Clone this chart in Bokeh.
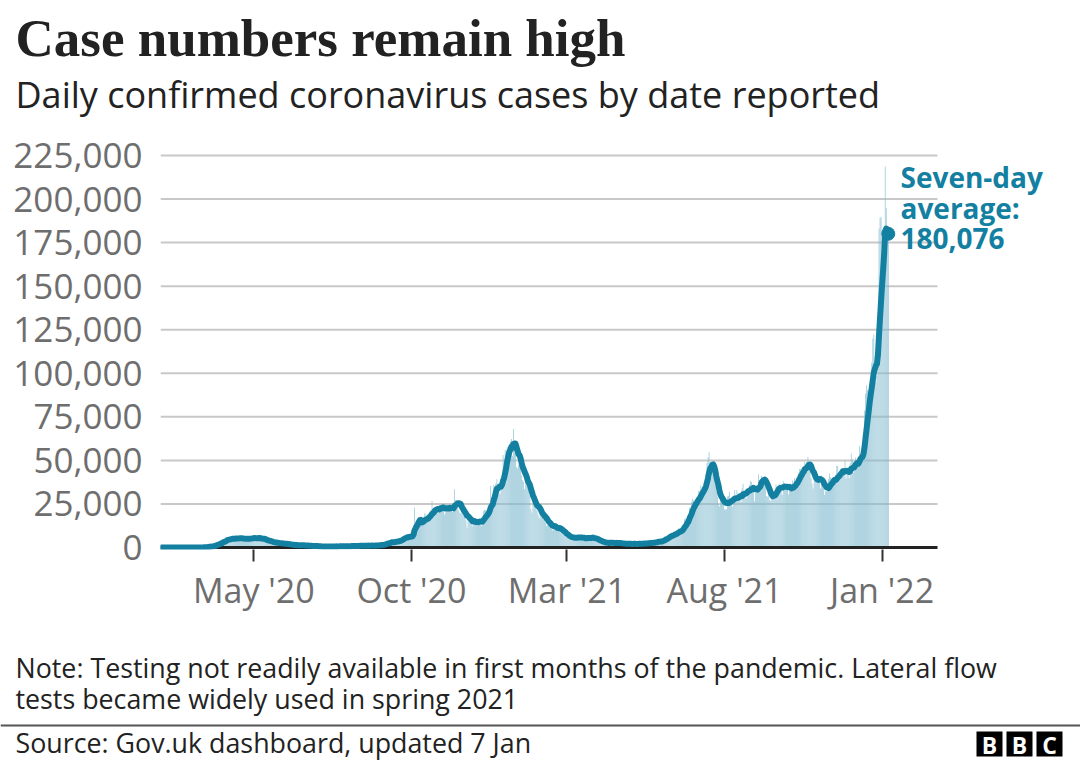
import pandas as pd
from bokeh.plotting import figure
from bokeh.models import (ColumnDataSource, FixedTicker, DatetimeTickFormatter,
                          NumeralTickFormatter, Range1d, Label)
from bokeh.embed import file_html
from bokeh.resources import INLINE

# ---------------- data ----------------
start_date = "2020-02-01"   # first bar (Saturday); one row per week, Sat..Fri
# daily confirmed cases by date reported, in thousands
case_thousands = [
    0, 0, 0, 0, 0, 0, 0.001,
    0.001, 0.001, 0.004, 0, 0.001, 0, 0,
    0, 0, 0, 0, 0, 0, 0,
    0, 0, 0.004, 0, 0.003, 0.002, 0.005,
    0.003, 0.013, 0.004, 0.011, 0.034, 0.029, 0.048,
    0.045, 0.067, 0.046, 0.046, 0.083, 0.134, 0.208,
    0.342, 0.251, 0.152, 0.407, 0.676, 0.643, 0.714,
    1.035, 0.665, 0.967, 1.427, 1.452, 2.129, 2.885,
    2.546, 2.433, 2.619, 3.009, 4.324, 4.244, 4.450,
    4.1, 5.9, 4.4, 4.0, 5.5, 4.8, 5.7,
    5.3, 5.3, 4.6, 5.3, 5.0, 5.4, 5.9,
    5.6, 5.0, 4.7, 4.4, 4.6, 5.4, 5.9,
    5.4, 4.9, 4.6, 4.8, 5.0, 6.3, 6.8,
    5.3, 4.8, 4.4, 4.6, 6.1, 5.9, 5.3,
    4.9, 4.2, 4.0, 3.8, 4.0, 3.9, 4.3,
    3.5, 3.1, 2.7, 2.7, 2.5, 2.6, 3.3,
    2.9, 2.4, 2.0, 2.1, 2.2, 2.4, 2.3,
    2.4, 1.9, 1.6, 1.9, 1.9, 1.8, 1.7,
    1.6, 1.3, 1.2, 1.4, 1.1, 1.5, 1.5,
    1.4, 1.3, 1.1, 1.3, 1.1, 1.2, 1.3,
    1.2, 0.96, 0.96, 0.87, 0.65, 1.1, 1.0,
    0.89, 0.9, 0.82, 0.69, 0.83, 0.58, 0.54,
    0.62, 0.52, 0.35, 0.58, 0.53, 0.63, 0.51,
    0.82, 0.65, 0.53, 0.54, 0.54, 0.64, 0.69,
    0.83, 0.73, 0.58, 0.45, 0.56, 0.77, 0.77,
    0.77, 0.75, 0.69, 0.58, 0.76, 0.85, 0.88,
    0.74, 0.74, 0.94, 0.67, 0.89, 0.95, 0.87,
    0.76, 1.06, 0.82, 1.15, 1.01, 0.95, 1.44,
    1.05, 1.01, 0.73, 1.09, 1.18, 1.18, 1.03,
    1.29, 1.03, 1.0, 0.85, 1.05, 1.52, 1.28,
    1.11, 1.72, 1.41, 1.30, 1.51, 1.74, 1.81,
    1.81, 2.99, 2.95, 2.46, 2.66, 2.92, 3.54,
    3.50, 3.33, 2.62, 3.11, 3.99, 3.40, 4.32,
    4.42, 3.90, 4.37, 4.93, 6.18, 6.63, 6.87,
    6.04, 5.69, 4.04, 7.14, 7.11, 7.11, 6.97,
    12.87, 22.96, 12.59, 14.54, 14.16, 17.54, 13.86,
    15.17, 12.87, 13.97, 17.23, 19.72, 18.98, 15.65,
    16.98, 16.98, 18.80, 21.33, 26.69, 21.24, 20.53,
    23.01, 19.79, 20.89, 22.89, 24.70, 23.07, 24.41,
    21.92, 23.25, 18.95, 20.02, 25.18, 24.14, 23.29,
    24.96, 20.57, 21.35, 20.41, 22.95, 33.47, 27.30,
    26.86, 24.96, 21.36, 20.05, 19.61, 22.92, 20.25,
    19.88, 18.66, 15.45, 11.30, 18.21, 17.56, 16.02,
    15.87, 12.16, 13.43, 13.43, 16.17, 14.88, 16.30,
    15.54, 13.66, 14.72, 12.28, 16.58, 20.96, 21.67,
    21.50, 18.45, 20.26, 18.45, 25.16, 35.38, 28.51,
    27.05, 35.93, 33.36, 36.80, 39.24, 36.80, 32.73,
    30.50, 34.69, 41.38, 53.14, 50.02, 55.89, 53.29,
    57.73, 54.99, 58.78, 60.92, 62.32, 52.62, 68.05,
    59.94, 54.94, 46.17, 45.53, 47.53, 48.68, 55.76,
    41.35, 38.60, 37.54, 33.36, 38.91, 37.89, 40.26,
    33.55, 30.00, 22.20, 20.09, 25.31, 28.68, 29.08,
    23.28, 21.09, 18.61, 16.84, 19.20, 20.63, 19.11,
    18.26, 15.85, 14.10, 12.36, 13.01, 13.49, 15.14,
    13.31, 10.97, 9.77, 10.63, 12.72, 12.06, 12.03,
    10.41, 9.83, 10.64, 8.49, 9.94, 9.00, 8.52,
    7.43, 6.04, 5.46, 6.39, 6.00, 6.39, 6.04,
    5.18, 5.18, 4.71, 5.77, 5.93, 6.61, 6.61,
    5.53, 4.62, 5.09, 5.29, 5.76, 6.30, 4.80,
    5.59, 5.31, 5.34, 5.38, 5.60, 6.40, 6.19,
    4.72, 3.86, 4.65, 4.05, 4.05, 4.48, 3.40,
    3.42, 2.30, 2.76, 2.38, 2.59, 2.96, 3.15,
    2.59, 1.73, 3.57, 2.47, 2.49, 2.67, 2.99,
    2.60, 1.88, 2.52, 2.52, 2.40, 2.73, 2.60,
    2.06, 1.71, 1.95, 2.06, 2.17, 2.60, 2.42,
    1.91, 1.67, 1.65, 2.03, 2.57, 2.49, 2.05,
    1.91, 1.77, 2.36, 2.28, 2.28, 2.66, 2.19,
    2.03, 1.93, 2.36, 2.70, 2.87, 2.87, 2.94,
    2.59, 2.24, 2.49, 3.24, 3.54, 3.54, 4.18,
    3.40, 3.24, 3.24, 3.17, 4.33, 5.27, 6.24,
    5.77, 5.34, 5.68, 6.05, 7.54, 7.39, 8.13,
    7.74, 7.49, 7.74, 7.67, 9.06, 11.01, 10.48,
    10.32, 9.28, 10.63, 11.63, 16.14, 16.70, 15.81,
    18.27, 14.88, 22.87, 20.48, 26.07, 27.99, 27.13,
    24.89, 24.25, 27.33, 28.77, 32.55, 32.55, 35.71,
    32.37, 31.77, 34.47, 36.66, 42.30, 48.55, 51.87,
    54.67, 48.16, 39.95, 46.56, 44.10, 39.91, 36.39,
    31.80, 29.17, 24.95, 23.51, 27.73, 31.12, 29.62,
    24.47, 21.95, 21.69, 21.95, 29.31, 29.61, 31.81,
    27.43, 25.16, 23.51, 26.42, 33.07, 29.63, 33.07,
    28.44, 26.85, 28.44, 26.13, 33.90, 36.57, 32.06,
    32.25, 28.14, 31.91, 30.84, 35.85, 38.28, 37.66,
    32.18, 33.00, 26.48, 32.18, 35.69, 35.39, 42.08,
    37.01, 38.15, 41.19, 37.49, 38.98, 38.07, 37.62,
    29.55, 29.17, 30.83, 27.17, 26.63, 29.99, 32.65,
    32.25, 29.61, 36.10, 34.46, 34.62, 36.71, 35.62,
    32.65, 30.30, 37.96, 36.72, 34.46, 35.99, 35.82,
    30.44, 32.62, 34.53, 33.87, 38.52, 35.08, 39.85,
    34.02, 40.22, 38.52, 42.78, 45.07, 45.07, 44.93,
    43.42, 45.14, 49.16, 43.74, 49.14, 52.01, 49.30,
    44.99, 39.96, 36.57, 33.87, 43.94, 39.84, 39.70,
    39.87, 37.96, 40.08, 33.87, 41.30, 37.27, 34.03,
    30.30, 32.32, 32.32, 33.12, 39.33, 42.41, 40.38,
    36.52, 36.10, 39.71, 37.65, 38.26, 46.86, 46.81,
    40.00, 40.94, 44.92, 42.48, 44.92, 43.68, 50.09,
    39.57, 42.58, 42.58, 39.72, 48.37, 53.95, 50.58,
    42.88, 43.99, 51.46, 45.91, 51.34, 50.87, 58.19,
    54.07, 48.85, 54.66, 59.61, 78.61, 88.38, 93.05,
    90.42, 82.89, 91.74, 90.63, 106.12, 119.79, 122.19,
    105.0, 95.0, 98.52, 129.47, 183.04, 189.21, 189.85,
    170.0, 155.0, 164.0, 218.72, 194.75, 179.76, 178.25,
]
tick_dates = ["2020-05-01", "2020-10-01", "2021-03-01", "2021-08-01", "2022-01-01"]
y_ticks = [0, 25000, 50000, 75000, 100000, 125000, 150000, 175000, 200000, 225000]
axis_start, axis_end = "2020-01-31 09:00", "2022-02-23 19:00"
y_start, y_end = -1150, 227850

title_text = "Case numbers remain high"
subtitle_text = "Daily confirmed coronavirus cases by date reported"
avg_lines = ["Seven-day", "average:", "180,076"]
note_lines = ["Note: Testing not readily available in first months of the pandemic. Lateral flow",
              "tests became widely used in spring 2021"]
source_text = "Source: Gov.uk dashboard, updated 7 Jan"
logo_letters = ["B", "B", "C"]

TEAL = "#1380A1"
BAR = "#84bcd0"
GREY = "#6e6e6e"
DARK = "#222222"
W = 1080
BASE_SHIFT = 0.33   # Bokeh's alphabetic baseline sits ~0.33em lower than asked

# ---------------- derived series ----------------
dates = pd.date_range(start_date, periods=len(case_thousands), freq="D")
cases = pd.Series(case_thousands) * 1000.0
avg = cases.rolling(7, min_periods=1).mean()
src = ColumnDataSource(dict(date=dates, cases=cases.values, avg=avg.values))


def blank(height, y_top, y_bottom):
    f = figure(width=W, height=height, x_range=Range1d(0, W), y_range=Range1d(y_bottom, y_top),
               output_backend="svg", toolbar_location=None, title=None,
               x_axis_location=None, y_axis_location=None, min_border=0)
    f.outline_line_color = None
    f.xgrid.visible = False
    f.ygrid.visible = False
    f.background_fill_color = "white"
    f.border_fill_color = "white"
    return f


def text(f, txt, x, base, size, color=DARK, font="Open Sans", style="normal", align="left"):
    f.add_layout(Label(x=x, y=base - BASE_SHIFT * size, text=txt, text_font=font,
                       text_font_size=f"{size}px", text_color=color,
                       text_font_style=style, text_align=align, text_baseline="alphabetic"))


# ---------------- header (page y 0..130) ----------------
head = blank(130, 0, 130)
text(head, title_text, 15, 55, 53, font="Liberation Serif", style="bold")
text(head, subtitle_text, 15, 106, 36)

# ---------------- main chart (page y 130..630) ----------------
x0 = pd.Timestamp(axis_start)
x1 = pd.Timestamp(axis_end)
frame_left, axis_right_px = 160, 937
x_range_end = x0 + (x1 - x0) * ((W - frame_left) / (axis_right_px - frame_left))

p = figure(width=W, height=500, x_axis_type="datetime",
           x_range=Range1d(x0, x_range_end), y_range=Range1d(y_start, y_end),
           output_backend="svg", toolbar_location=None, title=None,
           min_border_left=frame_left, min_border_right=0,
           min_border_top=20, min_border_bottom=81)
p.outline_line_color = None
p.background_fill_color = "white"
p.border_fill_color = "white"
p.xgrid.visible = False
p.ygrid.visible = False

grid_y = y_ticks[1:]
p.segment(x0=[x0] * len(grid_y), x1=[x1] * len(grid_y), y0=grid_y, y1=grid_y,
          line_color="#c8c8c8", line_width=2)
p.vbar(x="date", top="cases", width=0.62 * 86400000, source=src,
       fill_color=BAR, line_color=None)
p.segment(x0=[x0], x1=[x1], y0=[0], y1=[0], line_color=DARK, line_width=3)
p.line(x="date", y="avg", source=src, line_width=6, line_color=TEAL,
       line_join="round", line_cap="round")
p.scatter(x=[dates[-1]], y=[avg.iloc[-1]], size=13, color=TEAL)

# y axis
p.yaxis.ticker = FixedTicker(ticks=y_ticks)
p.yaxis.formatter = NumeralTickFormatter(format="0,0")
p.yaxis.axis_line_color = None
p.yaxis.major_tick_line_color = None
p.yaxis.minor_tick_line_color = None
p.yaxis.major_label_text_font = "Open Sans"
p.yaxis.major_label_text_font_size = "35px"
p.yaxis.major_label_text_color = GREY
p.yaxis.major_label_standoff = 12

# x axis
tick_ms = [pd.Timestamp(d).value // 10**6 for d in tick_dates]
p.xaxis.ticker = FixedTicker(ticks=tick_ms)
fmt = "%b '%y"
p.xaxis.formatter = DatetimeTickFormatter(days=fmt, months=fmt, years=fmt, hours=fmt)
p.xaxis.axis_line_color = None
p.xaxis.major_tick_in = 0
p.xaxis.major_tick_out = 12
p.xaxis.major_tick_line_width = 2
p.xaxis.major_tick_line_color = "#333333"
p.xaxis.minor_tick_line_color = None
p.xaxis.major_label_text_font = "Open Sans"
p.xaxis.major_label_text_font_size = "34px"
p.xaxis.major_label_text_color = GREY
p.xaxis.major_label_standoff = 5

# seven-day label (screen units relative to the frame: frame left page 160, bottom page 549)
for i, ln in enumerate(avg_lines):
    base = 186 + 30.5 * i
    p.add_layout(Label(x=900 - frame_left, y=549 - base + BASE_SHIFT * 28,
                       x_units="screen", y_units="screen",
                       text=ln, text_font="Open Sans", text_font_size="28px",
                       text_color=TEAL, text_font_style="bold", text_baseline="alphabetic"))

# ---------------- footer (page y 630..760) ----------------
foot = blank(130, 630, 760)
text(foot, note_lines[0], 15, 676, 26.8)
text(foot, note_lines[1], 15, 707, 26.8)
foot.quad(left=[0], right=[W], top=[724], bottom=[726], fill_color="#555555", line_color=None)
text(foot, source_text, 15, 751, 26.8)
for i, letter in enumerate(logo_letters):
    lx = 976 + 30 * i
    foot.quad(left=[lx], right=[lx + 26], top=[731], bottom=[756], fill_color="#000000", line_color=None)
    text(foot, letter, lx + 13, 752, 23, color="white", style="bold", align="center")

open("out.html", "w").write(file_html([head, p, foot], INLINE))
